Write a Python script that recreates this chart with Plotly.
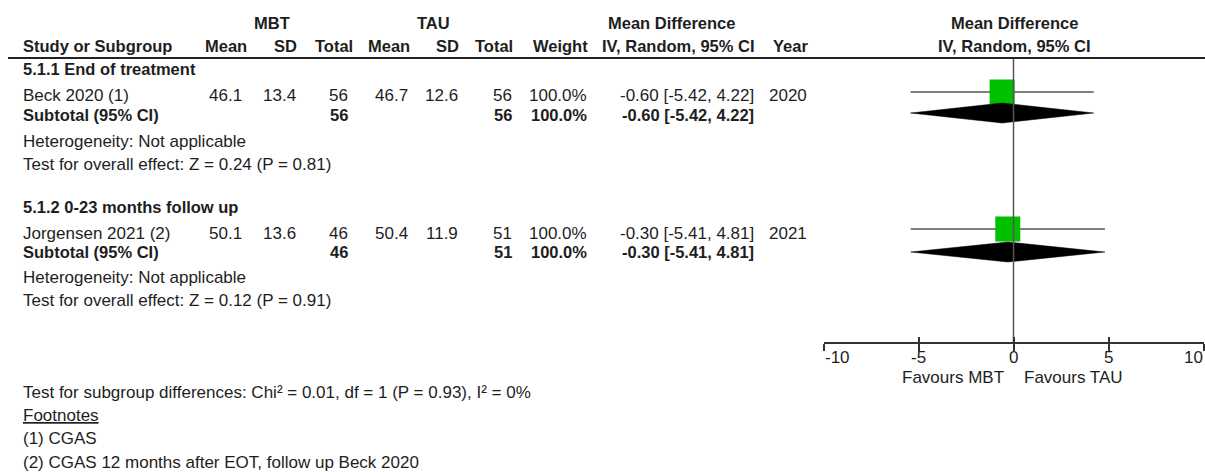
import plotly.graph_objects as go

# ================================
# Dados
# ================================
subgroups = ["5.1.1 End of treatment", "5.1.2 0-23 months follow up"]
studies = ["Beck 2020 (1)", "Jorgensen 2021 (2)"]
mbt_mean = [46.1, 50.1]
mbt_sd = [13.4, 13.6]
mbt_n = [56, 46]
tau_mean = [46.7, 50.4]
tau_sd = [12.6, 11.9]
tau_n = [56, 51]
weight = [100.0, 100.0]
md = [-0.60, -0.30]
ci_lo = [-5.42, -5.41]
ci_hi = [4.22, 4.81]
year = [2020, 2021]
sub_md = [-0.60, -0.30]
sub_lo = [-5.42, -5.41]
sub_hi = [4.22, 4.81]
heterogeneity = ["Not applicable", "Not applicable"]
z_value = [0.24, 0.12]
p_value = [0.81, 0.91]
ticks = [-10, -5, 0, 5, 10]
subgroup_test = "Test for subgroup differences: Chi² = 0.01, df = 1 (P = 0.93), I² = 0%"
footnotes = ["(1) CGAS", "(2) CGAS 12 months after EOT, follow up Beck 2020"]

# ================================
# Layout (pixels)
# ================================
W, H = 1205, 472
FONT = "Liberation Sans, Arial, sans-serif"
TXT = "#1e1e1e"
AXIS_Y = 343
TOP_LINE = 58

# y de cada bloco: título, texto do estudo, marca, subtotal, diamante, heterogeneidade, teste
blocks = [
    dict(title=69, row=95.5, mark=92, sub=115, diam=113, het=141, test=164),
    dict(title=207, row=233.5, mark=229, sub=252, diam=252, het=277, test=300),
]

# borda direita de cada coluna
col_right = dict(mbt_mean=243, mbt_sd=297, mbt_n=349, tau_mean=409, tau_sd=459,
                 tau_n=513, weight=588, ci=755, year=808)

annotations = []


def px(x):
    return x / W


def txt(x, y, s, anchor="left", bold=False, ref="paper"):
    if bold:
        s = "<b>" + s + "</b>"
    annotations.append(dict(
        x=px(x) if ref == "paper" else x, xref=ref, y=y, yref="y",
        text=s, showarrow=False, xanchor=anchor, yanchor="middle",
        font=dict(family=FONT, size=16.5 if bold else 17, color=TXT), borderpad=0))


# cabeçalho
txt(272, 23, "MBT", "center", True)
txt(433, 23, "TAU", "center", True)
txt(671, 23, "Mean Difference", "center", True)
txt(1014, 23, "Mean Difference", "center", True)
txt(22, 46, "Study or Subgroup", "left", True)
txt(248, 46, "Mean", "right", True)
txt(298, 46, "SD", "right", True)
txt(354, 46, "Total", "right", True)
txt(411, 46, "Mean", "right", True)
txt(460, 46, "SD", "right", True)
txt(514, 46, "Total", "right", True)
txt(589, 46, "Weight", "right", True)
txt(756, 46, "IV, Random, 95% CI", "right", True)
txt(809, 46, "Year", "right", True)
txt(1014, 46, "IV, Random, 95% CI", "center", True)

for i, b in enumerate(blocks):
    txt(22, b["title"], subgroups[i], "left", True)
    txt(22, b["row"], studies[i])
    txt(col_right["mbt_mean"], b["row"], f"{mbt_mean[i]:.1f}", "right")
    txt(col_right["mbt_sd"], b["row"], f"{mbt_sd[i]:.1f}", "right")
    txt(col_right["mbt_n"], b["row"], f"{mbt_n[i]}", "right")
    txt(col_right["tau_mean"], b["row"], f"{tau_mean[i]:.1f}", "right")
    txt(col_right["tau_sd"], b["row"], f"{tau_sd[i]:.1f}", "right")
    txt(col_right["tau_n"], b["row"], f"{tau_n[i]}", "right")
    txt(col_right["weight"], b["row"], f"{weight[i]:.1f}%", "right")
    txt(col_right["ci"], b["row"], f"{md[i]:.2f} [{ci_lo[i]:.2f}, {ci_hi[i]:.2f}]", "right")
    txt(col_right["year"], b["row"], f"{year[i]}", "right")
    txt(22, b["sub"], "Subtotal (95% CI)", "left", True)
    txt(col_right["mbt_n"], b["sub"], f"{mbt_n[i]}", "right", True)
    txt(col_right["tau_n"], b["sub"], f"{tau_n[i]}", "right", True)
    txt(col_right["weight"], b["sub"], f"{weight[i]:.1f}%", "right", True)
    txt(col_right["ci"], b["sub"], f"{sub_md[i]:.2f} [{sub_lo[i]:.2f}, {sub_hi[i]:.2f}]", "right", True)
    txt(22, b["het"], "Heterogeneity: " + heterogeneity[i])
    txt(22, b["test"], f"Test for overall effect: Z = {z_value[i]:.2f} (P = {p_value[i]:.2f})")

# rodapé
txt(22, 392, subgroup_test)
txt(22, 415, "<u>Footnotes</u>")
for k, f in enumerate(footnotes):
    txt(22, 438 + 24 * k, f)

# rótulos do eixo
for t in ticks:
    anchor = "left" if t == ticks[0] else ("right" if t == ticks[-1] else "center")
    txt(t, 357, str(t), anchor, ref="x")
txt(1005, 377, "Favours MBT", "right")
txt(1023, 377, "Favours TAU", "left")

# ================================
# Marcas
# ================================
fig = go.Figure()

# linha de nulidade
fig.add_trace(go.Scatter(x=[0, 0], y=[TOP_LINE, AXIS_Y], xaxis="x2", mode="lines",
                         line=dict(color="#555555", width=1.5), hoverinfo="skip"))

# intervalos de confiança
ci_x, ci_y = [], []
for i, b in enumerate(blocks):
    ci_x += [ci_lo[i], ci_hi[i], None]
    ci_y += [b["mark"], b["mark"], None]
fig.add_trace(go.Scatter(x=ci_x, y=ci_y, mode="lines",
                         line=dict(color="#555555", width=1.5), hoverinfo="skip"))

# quadrados
fig.add_trace(go.Scatter(
    x=md, y=[b["mark"] for b in blocks], mode="markers",
    marker=dict(symbol="square", size=[25 * (w / 100) ** 0.5 for w in weight],
                color="#00c000", opacity=1, line=dict(width=0)),
    hoverinfo="skip"))

# diamantes dos subtotais
for i, b in enumerate(blocks):
    yc = b["diam"]
    fig.add_trace(go.Scatter(
        x=[sub_lo[i], sub_md[i], sub_hi[i], sub_md[i], sub_lo[i]],
        y=[yc, yc - 10, yc, yc + 10, yc],
        mode="lines", fill="toself", fillcolor="black",
        line=dict(color="black", width=0.5), hoverinfo="skip"))

axis_common = dict(domain=[px(823.5), px(1203.5)], range=[-10, 10], anchor="free",
                   position=(H - AXIS_Y) / H, tickvals=ticks, showticklabels=False,
                   showgrid=False, zeroline=False, fixedrange=True,
                   tickcolor="#333333", tickwidth=1.5)

fig.update_layout(
    width=W, height=H,
    margin=dict(l=0, r=0, t=0, b=0),
    paper_bgcolor="white", plot_bgcolor="white",
    showlegend=False,
    hovermode=False,
    xaxis=dict(**axis_common, showline=True, linecolor="#333333", linewidth=1.5,
               ticks="outside", ticklen=7),
    xaxis2=dict(**axis_common, overlaying="x", showline=False,
                ticks="inside", ticklen=6),
    # eixo y em pixels
    yaxis=dict(range=[H, 0], domain=[0, 1], visible=False, fixedrange=True),
    annotations=annotations,
    shapes=[dict(type="line", xref="paper", yref="y", x0=px(8), x1=1,
                 y0=TOP_LINE, y1=TOP_LINE, line=dict(color="#222222", width=2))],
)

# sem margem na página, para a figura ocupar a janela inteira
fig.write_html("out.html", config={"displayModeBar": False},
               post_script="document.body.style.margin='0';")
